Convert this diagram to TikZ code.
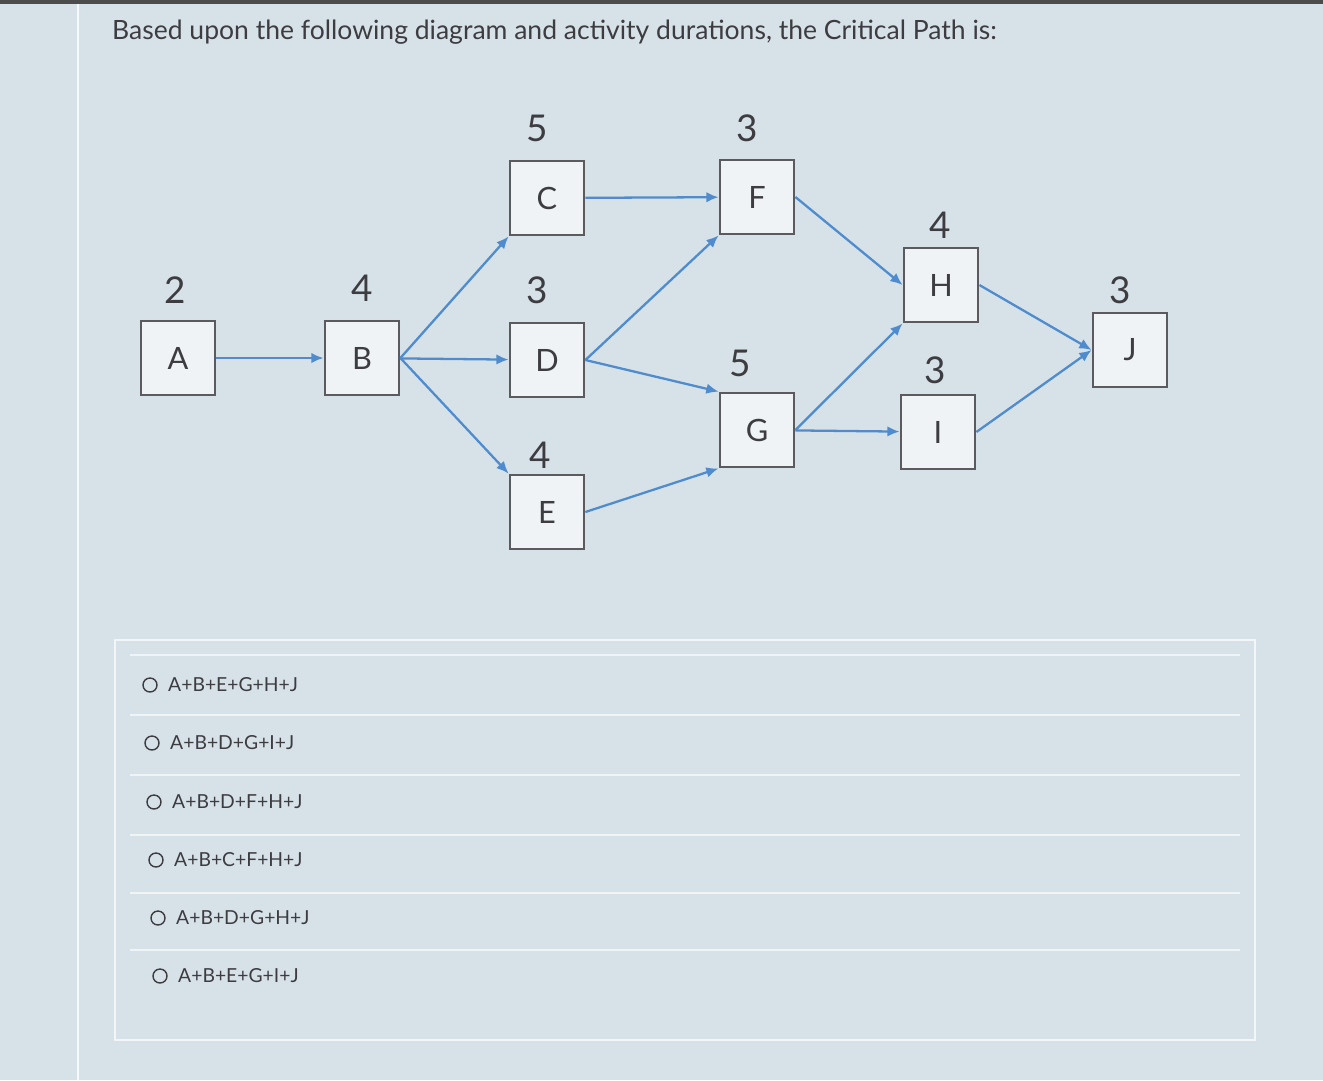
\documentclass[tikz,border=0pt]{standalone}
\usepackage{fontspec}
\setmainfont{Lato}
\usetikzlibrary{arrows.meta}
\definecolor{bg}{RGB}{214,226,232}
\definecolor{edge}{RGB}{80,140,205}
\definecolor{boxc}{RGB}{90,90,95}
\definecolor{txt}{RGB}{60,60,65}
\tikzset{
  act/.style={draw=boxc,line width=1.6pt,fill=white!60!bg,minimum size=2.0cm*0.74,inner sep=0pt,font=\fontsize{17.5}{19}\selectfont,text=txt},
  dur/.style={font=\fontsize{21}{24}\selectfont,text=txt},
  conn/.style={draw=edge,line width=1.3pt,-{Latex[length=7pt,width=6pt]}},
  opt/.style={anchor=west,font=\fontsize{11}{13}\selectfont,text=txt},
  radio/.style={circle,draw=txt,line width=0.8pt,minimum size=0.28cm,inner sep=0pt}
}
\begin{document}
\begin{tikzpicture}[x=0.02cm,y=-0.02cm]
\useasboundingbox (0,0) rectangle (1323,1080);
\fill[bg] (0,0) rectangle (1323,1080);
\fill[black!70] (0,0) rectangle (1323,4);
\draw[white!80!bg,line width=1pt] (78,4) -- (78,1080);
\draw[white!70!bg,line width=1pt] (115,640) rectangle (1255,1040);
\node[anchor=west,font=\fontsize{15.1}{17}\selectfont,text=txt] (title) at (106,32) {Based upon the following diagram and activity durations, the Critical Path is:};
\node[act] (A) at (178,358) {A};
\node[act] (B) at (362,358) {B};
\node[act] (C) at (547,198) {C};
\node[act] (D) at (547,360) {D};
\node[act] (E) at (547,512) {E};
\node[act] (F) at (757,197) {F};
\node[act] (G) at (757,430) {G};
\node[act] (H) at (941,285) {H};
\node[act] (I) at (938,432) {I};
\node[act] (J) at (1130,350) {J};
\node[dur] (dA) at (175,290) {2};
\node[dur] (dB) at (362,288) {4};
\node[dur] (dC) at (537,128) {5};
\node[dur] (dD) at (537,290) {3};
\node[dur] (dE) at (540,455) {4};
\node[dur] (dF) at (747,128) {3};
\node[dur] (dG) at (740,363) {5};
\node[dur] (dH) at (940,225) {4};
\node[dur] (dI) at (935,370) {3};
\node[dur] (dJ) at (1120,290) {3};
\draw[conn] (A) -- (B);
\draw[conn] (B.east) -- (C.south west);
\draw[conn] (B) -- (D);
\draw[conn] (B.east) -- (E.north west);
\draw[conn] (C) -- (F);
\draw[conn] (D.east) -- (F.south west);
\draw[conn] (D.east) -- (G.north west);
\draw[conn] (E.east) -- (G.south west);
\draw[conn] (F.east) -- (H.west);
\draw[conn] (G.east) -- (H.south west);
\draw[conn] (G) -- (I);
\draw[conn] (H.east) -- (J.west);
\draw[conn] (I.east) -- (J.west);
\foreach \y/\t/\x [count=\i] in {685/A+B+E+G+H+J/150, 743/A+B+D+G+I+J/152, 802/A+B+D+F+H+J/154, 860/A+B+C+F+H+J/156, 918/A+B+D+G+H+J/158, 976/A+B+E+G+I+J/160}{
  \node[radio] (r\i) at (\x,\y) {};
  \node[opt] (o\i) at (\x+12,\y) {\t};
}
\foreach \y in {655,715,775,835,893,950}{\draw[white!60!bg,line width=0.8pt] (130,\y) -- (1240,\y);}
\end{tikzpicture}
\end{document}
